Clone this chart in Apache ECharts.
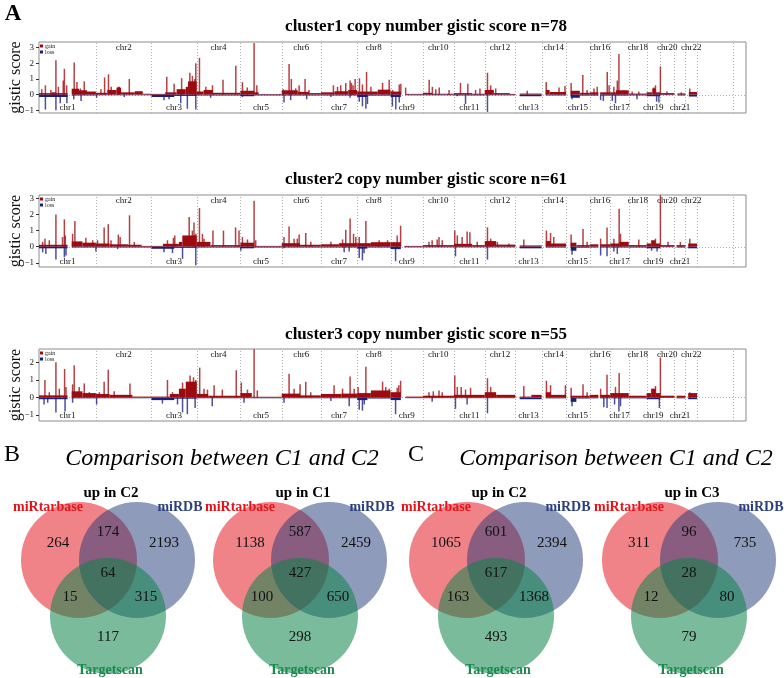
<!DOCTYPE html>
<html>
<head>
<meta charset="utf-8">
<script src="https://cdn.jsdelivr.net/npm/echarts@6/dist/echarts.min.js"></script>
<style>
html, body { margin: 0; background: #fff; }
#chart { width: 784px; height: 678px; }
</style>
</head>
<body>
<div id="chart"></div>
<script>
// chromosomes (Mb)
var chrNames = ['chr1','chr2','chr3','chr4','chr5','chr6','chr7','chr8','chr9','chr10','chr11','chr12',
    'chr13','chr14','chr15','chr16','chr17','chr18','chr19','chr20','chr21','chr22','chrX','chrY'];
var chrLen = [249,243,198,191,181,171,159,146,141,136,135,134,115,107,103,90,81,78,59,63,48,51,155,59];

var panelTitles = ['cluster1 copy number gistic score n=78',
    'cluster2 copy number gistic score n=61',
    'cluster3 copy number gistic score n=55'];
var yTicks1 = [-1, 0, 1, 2, 3];
var yTicks2 = [-1, 0, 1, 2, 3];
var yTicks3 = [-1, 0, 1, 2];

// gain / loss : segments [chr, start, end, score], peaks [chr, pos, score]
var gainSeg1 = [[1,0,125,0.1],[1,55,75,0.15],[1,143,175,0.38],[1,175,210,0.28],[1,210,249,0.2],
    [2,0,50,0.12],[2,50,90,0.3],[2,90,110,0.45],[2,110,170,0.15],[2,170,205,0.22],[2,205,243,0.06],
    [3,0,60,0.05],[3,60,110,0.15],[3,110,150,0.35],[3,150,160,0.5],[3,160,198,0.85],
    [4,0,30,0.2],[4,30,70,0.3],[4,70,191,0.12],[5,0,60,0.25],[5,60,80,0.15],[5,80,181,0.04],
    [6,0,70,0.28],[6,70,120,0.18],[6,120,171,0.1],[7,0,60,0.15],[7,60,120,0.22],[7,120,159,0.3],
    [8,0,90,0.2],[8,90,146,0.32],[9,0,45,0.2],[9,65,141,0.05],[10,0,40,0.12],[10,40,136,0.06],
    [11,0,80,0.1],[11,80,135,0.06],[12,0,40,0.3],[12,40,110,0.1],[12,110,134,0.05],[13,19,115,0.07],
    [14,18,35,0.3],[14,35,107,0.17],[15,20,60,0.25],[15,60,103,0.12],[16,0,38,0.15],[16,46,90,0.15],
    [17,0,25,0.15],[17,25,81,0.28],[18,0,78,0.07],[19,0,25,0.15],[19,25,40,0.4],[19,40,59,0.15],
    [20,0,63,0.1],[21,13,48,0.08],[22,15,51,0.17]];
var gainPk1 = [[1,12,0.35],[1,28,0.6],[1,52,0.3],[1,74,2.2],[1,85,0.5],[1,106,0.9],[1,111,1.65],[1,121,0.6],
    [1,154,2.05],[1,166,0.8],[1,181,0.4],[1,198,0.85],[2,22,0.35],[2,38,1.1],[2,55,1.3],[2,67,0.5],[2,98,0.5],
    [2,102,0.5],[2,146,1.0],[3,67,1.15],[3,99,0.7],[3,132,1.05],[3,168,1.4],[3,179,1.2],[3,190,1.0],[3,194,2.0],
    [4,12,2.35],[4,40,0.5],[4,69,0.6],[4,115,0.95],[4,171,1.85],[5,9,0.8],[5,30,0.45],[5,60,3.3],[5,72,0.6],
    [6,7,0.35],[6,32,1.95],[6,42,1.0],[6,61,0.4],[6,76,0.6],[6,102,1.0],[6,119,0.3],
    [7,55,0.6],[7,73,0.5],[7,87,0.6],[7,109,0.75],[7,128,0.9],[7,134,0.75],[7,141,0.6],[7,150,1.0],
    [8,10,1.05],[8,23,0.65],[8,41,1.45],[8,60,0.5],[8,111,0.75],[8,140,0.95],[9,9,0.3],[9,38,0.65],[9,45,0.7],
    [9,66,0.45],[10,28,0.95],[10,42,0.5],[10,57,0.35],[10,72,0.45],[10,115,0.3],[11,29,0.75],[11,61,0.7],
    [11,95,0.3],[11,114,0.4],[12,12,1.4],[12,26,0.6],[12,48,0.4],[13,52,0.25],[14,20,0.8],[14,76,0.45],
    [14,102,0.55],[15,22,0.75],[15,73,1.25],[15,92,0.3],[16,19,0.4],[16,33,0.5],[16,77,1.45],[16,85,0.6],
    [17,16,0.5],[17,31,0.9],[17,38,2.6],[17,60,0.3],[18,15,0.2],[18,44,0.2],[19,32,0.45],[19,39,0.6],
    [20,1.5,1.8],[20,30,0.2],[21,30,0.15],[22,19,0.4]];
var lossSeg1 = [[1,0,125,-0.15],[1,143,249,-0.05],[2,0,243,-0.04],[3,0,100,-0.15],[3,100,198,-0.08],
    [4,0,191,-0.06],[5,0,60,-0.1],[5,60,181,-0.05],[6,0,171,-0.05],[7,0,159,-0.05],[8,0,45,-0.15],
    [8,45,146,-0.06],[9,0,45,-0.15],[9,65,141,-0.04],[10,0,136,-0.04],[11,0,135,-0.05],[12,0,134,-0.04],
    [13,19,115,-0.1],[14,18,107,-0.05],[15,20,60,-0.2],[15,60,103,-0.06],[16,0,38,-0.06],[16,46,90,-0.06],
    [17,0,81,-0.06],[18,0,78,-0.05],[19,0,59,-0.1],[20,0,63,-0.03],[21,13,48,-0.05],[22,15,51,-0.12]];
var lossPk1 = [[1,28,-0.95],[1,74,-1.0],[1,93,-0.55],[1,122,-0.55],[1,152,-0.3],[1,184,-0.4],[2,3,-0.2],
    [2,124,-0.15],[3,55,-0.35],[3,77,-0.3],[3,128,-0.55],[3,157,-0.9],[3,194,-0.95],[4,61,-0.2],[5,9,-0.15],
    [6,10,-0.5],[6,39,-0.35],[6,109,-0.3],[7,44,-0.15],[7,128,-0.2],[8,9,-0.45],[8,23,-0.75],[8,38,-0.9],
    [8,45,-0.6],[9,8,-0.75],[9,23,-0.95],[9,38,-0.5],[11,15,-0.1],[11,51,-0.6],[12,12,-1.1],[15,26,-0.3],
    [16,48,-0.35],[16,60,-0.4],[17,9,-0.4],[17,23,-0.55],[18,36,-0.3],[19,44,-0.45],[19,54,-0.5]];

var gainSeg2 = [[1,0,125,0.12],[1,143,190,0.33],[1,190,249,0.25],[2,0,60,0.2],[2,60,140,0.15],[2,140,200,0.12],
    [2,200,243,0.05],[3,0,50,0.05],[3,50,120,0.18],[3,120,135,0.3],[3,135,198,0.7],[4,0,60,0.3],[4,60,191,0.1],
    [5,0,60,0.25],[5,60,181,0.05],[6,0,80,0.22],[6,80,171,0.12],[7,0,80,0.15],[7,80,159,0.22],[8,0,60,0.22],
    [8,60,146,0.28],[9,0,45,0.28],[9,60,141,0.05],[10,0,136,0.1],[11,0,80,0.18],[11,80,135,0.1],[12,0,50,0.35],
    [12,50,134,0.13],[13,19,115,0.08],[14,18,40,0.35],[14,40,107,0.2],[15,20,45,0.25],[15,45,103,0.1],
    [16,0,38,0.15],[16,46,90,0.15],[17,0,40,0.2],[17,40,81,0.3],[18,0,78,0.1],[19,0,20,0.2],[19,20,40,0.4],
    [19,40,59,0.2],[20,0,63,0.1],[21,9,48,0.1],[22,12,51,0.2]];
var gainPk2 = [[1,16,0.3],[1,26,0.5],[1,45,0.4],[1,74,2.0],[1,103,0.6],[1,111,1.7],[1,115,0.7],[1,147,0.8],
    [1,157,1.6],[1,205,0.55],[1,235,0.4],[2,7,0.4],[2,36,1.2],[2,54,1.4],[2,66,0.4],[2,98,0.75],[2,106,0.6],
    [2,147,1.95],[2,168,0.3],[3,70,0.4],[3,96,0.55],[3,102,0.7],[3,165,1.85],[3,179,1.0],[3,186,1.5],[3,194,0.8],
    [4,12,2.4],[4,25,0.8],[4,32,0.5],[4,71,1.0],[4,117,1.0],[4,170,1.2],[4,185,1.0],[5,9,0.6],[5,31,0.45],
    [5,60,2.85],[5,67,0.4],[6,10,0.6],[6,32,1.25],[6,54,0.5],[6,68,0.5],[6,76,0.75],[6,105,0.85],[6,127,0.3],
    [7,44,0.3],[7,95,0.45],[7,109,1.05],[7,128,1.75],[7,143,0.8],[7,153,0.6],[8,9,0.6],[8,38,1.6],[8,96,0.4],
    [8,133,0.4],[9,29,0.7],[9,44,1.3],[10,27,0.3],[10,41,0.4],[10,63,0.45],[10,71,0.6],[10,85,0.4],[11,4,1.0],
    [11,15,0.7],[11,36,0.6],[11,58,0.95],[11,70,0.9],[11,102,0.3],[12,12,1.2],[12,26,0.5],[12,55,0.3],
    [12,106,0.2],[13,37,0.45],[14,21,1.0],[14,39,0.85],[14,53,0.6],[15,22,0.75],[15,74,1.1],[15,92,0.3],
    [16,48,0.5],[16,76,1.2],[17,16,0.5],[17,39,2.35],[17,45,0.8],[18,44,0.45],[19,39,0.5],[20,1.5,3.2],
    [20,35,0.3],[21,26,0.3],[22,19,0.5]];
var lossSeg2 = [[1,0,125,-0.1],[1,143,249,-0.05],[2,0,243,-0.05],[3,0,100,-0.13],[3,100,198,-0.07],
    [4,0,191,-0.05],[5,0,60,-0.1],[5,60,181,-0.05],[6,0,171,-0.05],[7,0,159,-0.05],[8,0,45,-0.12],
    [8,45,146,-0.05],[9,0,45,-0.15],[9,60,141,-0.04],[10,0,136,-0.04],[11,0,135,-0.04],[12,0,134,-0.04],
    [13,19,115,-0.1],[14,18,107,-0.05],[15,20,45,-0.25],[15,45,103,-0.06],[16,0,38,-0.05],[16,46,90,-0.05],
    [17,0,81,-0.05],[18,0,78,-0.05],[19,0,59,-0.1],[20,0,63,-0.03],[21,9,48,-0.05],[22,12,51,-0.1]];
var lossPk2 = [[1,16,-0.35],[1,30,-0.45],[1,74,-0.8],[1,111,-0.65],[1,118,-0.55],[2,0,-0.3],[2,95,-0.15],
    [3,55,-0.35],[3,92,-0.4],[3,136,-0.75],[3,194,-1.15],[5,2,-0.25],[6,10,-0.1],[7,102,-0.35],[7,124,-0.3],
    [8,9,-0.7],[8,23,-0.85],[8,30,-0.4],[9,22,-0.9],[11,7,-0.6],[12,12,-0.8],[15,26,-0.5],[16,48,-0.55],
    [16,76,-0.6],[17,16,-0.3],[17,31,-0.45],[19,22,-0.25],[19,46,-0.3]];

var gainSeg3 = [[1,0,125,0.12],[1,143,190,0.35],[1,190,249,0.25],[2,0,60,0.2],[2,60,160,0.15],[2,160,243,0.05],
    [3,0,80,0.05],[3,80,120,0.2],[3,120,150,0.5],[3,150,198,0.9],[4,0,50,0.2],[4,50,191,0.1],[5,0,50,0.25],
    [5,50,181,0.04],[6,0,80,0.22],[6,80,171,0.12],[7,0,90,0.2],[7,90,159,0.22],[8,0,60,0.25],[8,60,146,0.4],
    [9,0,45,0.3],[9,65,141,0.05],[10,0,136,0.1],[11,0,135,0.15],[12,0,50,0.3],[12,50,134,0.15],[13,19,70,0.05],
    [13,70,115,0.15],[14,18,40,0.3],[14,40,107,0.15],[15,20,103,0.1],[16,0,38,0.15],[16,46,90,0.15],
    [17,0,81,0.25],[18,0,78,0.1],[19,0,20,0.25],[19,20,40,0.5],[19,40,59,0.25],[20,0,63,0.1],[21,9,48,0.1],
    [22,12,51,0.25]];
var gainPk3 = [[1,26,1.0],[1,45,0.3],[1,74,2.0],[1,89,0.5],[1,112,1.62],[1,118,0.6],[1,147,0.75],[1,154,1.83],
    [1,176,0.6],[1,198,0.8],[1,220,0.3],[2,15,0.3],[2,36,0.9],[2,54,1.58],[2,80,0.35],[2,149,0.8],[3,70,1.0],
    [3,92,0.3],[3,136,0.85],[3,169,1.25],[3,184,1.15],[3,194,1.0],[4,13,1.7],[4,32,0.5],[4,47,0.45],[4,76,0.7],
    [4,112,0.45],[4,173,1.55],[5,4,0.85],[5,31,0.45],[5,60,2.75],[5,74,0.4],[6,32,1.35],[6,54,0.5],[6,80,0.75],
    [6,105,0.9],[6,127,0.3],[7,58,0.7],[7,95,0.5],[7,128,1.2],[7,146,0.5],[8,4,0.6],[8,38,1.75],[8,111,0.9],
    [8,125,0.6],[8,140,0.5],[9,29,0.55],[9,36,0.7],[9,44,0.95],[10,27,0.3],[10,46,0.35],[10,71,0.4],[10,85,0.3],
    [11,4,1.25],[11,15,0.6],[11,32,0.6],[11,51,0.45],[11,73,0.55],[12,12,1.1],[12,26,0.6],[13,37,0.65],
    [14,21,0.95],[14,39,0.7],[14,104,0.7],[15,22,0.55],[15,74,0.75],[15,92,0.3],[16,48,0.5],[16,76,1.3],
    [17,23,0.6],[17,39,1.4],[19,39,0.65],[20,1.5,2.25],[22,19,0.3]];
var lossSeg3 = [[1,0,125,-0.1],[1,143,249,-0.05],[2,0,243,-0.05],[3,0,100,-0.15],[3,100,198,-0.07],
    [4,0,191,-0.05],[5,0,181,-0.05],[6,0,171,-0.05],[7,0,159,-0.05],[8,0,45,-0.15],[8,45,146,-0.06],
    [9,0,45,-0.15],[9,65,141,-0.04],[10,0,136,-0.04],[11,0,135,-0.04],[12,0,134,-0.04],[13,19,115,-0.1],
    [14,18,107,-0.05],[15,20,45,-0.25],[15,45,103,-0.06],[16,0,38,-0.05],[16,46,90,-0.05],[17,0,81,-0.05],
    [18,0,78,-0.05],[19,0,59,-0.1],[20,0,63,-0.03],[21,9,48,-0.05],[22,12,51,-0.1]];
var lossPk3 = [[1,22,-0.4],[1,38,-0.3],[1,74,-0.85],[1,114,-0.8],[1,147,-0.3],[2,3,-0.4],[3,48,-0.35],
    [3,114,-0.4],[3,136,-0.85],[3,157,-0.95],[3,191,-0.6],[4,68,-0.5],[5,16,-0.3],[6,10,-0.3],[7,44,-0.2],
    [7,124,-0.5],[8,9,-0.7],[8,23,-0.75],[8,31,-0.4],[9,22,-0.95],[10,41,-0.25],[11,7,-0.65],[11,58,-0.4],
    [12,12,-0.9],[15,26,-0.5],[16,62,-0.55],[16,76,-0.6],[17,19,-0.4],[17,38,-0.8],[17,45,-0.5],[19,56,-0.6]];

// venn counts: up in C2 / up in C1 / up in C2 / up in C3
var vennTitles = ['up in C2', 'up in C1', 'up in C2', 'up in C3'];
var onlyMiRtarbase = [264, 1138, 1065, 311];
var miRtarbaseMiRDB = [174, 587, 601, 96];
var onlyMiRDB = [2193, 2459, 2394, 735];
var miRtarbaseTargetscan = [15, 100, 163, 12];
var allThree = [64, 427, 617, 28];
var miRDBTargetscan = [315, 650, 1368, 80];
var onlyTargetscan = [117, 298, 493, 79];

var SERIF = '"Liberation Serif", "DejaVu Serif", serif';
var GAIN = '#9e0b0f', LOSS = '#1c1f7a';

var chrStart = [], acc = 0;
for (var i = 0; i < chrLen.length; i++) { chrStart.push(acc); acc += chrLen[i]; }
var genome = acc;

function toItems(seg, pk) {
    var out = [];
    seg.forEach(function (d) { var o = chrStart[d[0] - 1]; out.push([o + d[1], o + d[2], d[3], 0]); });
    pk.forEach(function (d) { var o = chrStart[d[0] - 1]; out.push([o + d[1], o + d[1], d[2], 1]); });
    return out;
}

function renderBar(params, api) {
    var spike = api.value(3);
    var p0 = api.coord([api.value(0), 0]);
    var p1 = api.coord([api.value(1), api.value(2)]);
    var w = spike ? 1.5 : Math.max(p1[0] - p0[0], 1);
    var x = spike ? p0[0] - w / 2 : p0[0];
    return {
        type: 'rect',
        shape: { x: x, y: Math.min(p0[1], p1[1]), width: w, height: Math.abs(p1[1] - p0[1]) },
        style: { fill: api.visual('color'), opacity: spike ? 0.78 : 1 }
    };
}

var panels = [
    { top: 42, height: 71, min: -1.17, max: 3.36, ticks: yTicks1, gain: toItems(gainSeg1, gainPk1), loss: toItems(lossSeg1, lossPk1), titleTop: 18 },
    { top: 195, height: 72, min: -1.26, max: 3.21, ticks: yTicks2, gain: toItems(gainSeg2, gainPk2), loss: toItems(lossSeg2, lossPk2), titleTop: 171 },
    { top: 349, height: 72, min: -1.34, max: 2.76, ticks: yTicks3, gain: toItems(gainSeg3, gainPk3), loss: toItems(lossSeg3, lossPk3), titleTop: 326 }
];

var grids = [], xAxes = [], yAxes = [], series = [], titles = [], legends = [];

// chromosome boundaries and label centres
var bounds = [], centres = [];
for (var c = 0; c < 23; c++) bounds.push([chrStart[c] + chrLen[c]]);
for (var c = 0; c < 22; c++) centres.push([chrStart[c] + chrLen[c] / 2, c]);

function tickText(v) { return v < 0 ? '\u2212' + Math.abs(v) : String(v); }

panels.forEach(function (p, k) {
    grids.push({ left: 38, width: 708, top: p.top, height: p.height, show: true, borderColor: '#8c8c8c', borderWidth: 1, backgroundColor: 'transparent' });
    xAxes.push({ gridIndex: k, type: 'value', min: 0, max: genome, show: false });
    yAxes.push({
        gridIndex: k, type: 'value', min: p.min, max: p.max,
        name: 'gistic score', nameLocation: 'middle', nameGap: 15, nameRotate: 90,
        nameTextStyle: { fontFamily: SERIF, fontSize: 16, color: '#111' },
        axisLine: { show: false }, splitLine: { show: false },
        axisTick: { show: true, length: 3, customValues: p.ticks, lineStyle: { color: '#333' } },
        axisLabel: { show: false }
    });
    titles.push({ text: panelTitles[k], left: 426, top: p.titleTop, textAlign: 'center', padding: 0,
        textStyle: { fontFamily: SERIF, fontSize: 17, fontWeight: 'bold', color: '#000' } });
    legends.push({ data: ['gain', 'loss'], left: 40, top: p.top + 1, orient: 'vertical', icon: 'rect',
        itemWidth: 3, itemHeight: 3, itemGap: 0, padding: 0, selectedMode: false,
        textStyle: { fontFamily: SERIF, fontSize: 6, color: '#222', padding: [0, 0, 0, -3] } });

    series.push({
        type: 'custom', xAxisIndex: k, yAxisIndex: k, silent: true, z: 1,
        data: bounds,
        renderItem: function (params, api) {
            var a = api.coord([api.value(0), p.min]), b = api.coord([api.value(0), p.max]);
            return { type: 'line', shape: { x1: Math.round(a[0]) + 0.5, y1: a[1], x2: Math.round(a[0]) + 0.5, y2: b[1] },
                style: { stroke: '#b0b0b0', lineWidth: 1, lineDash: [1, 2] } };
        }
    });
    series.push({
        type: 'custom', xAxisIndex: k, yAxisIndex: k, silent: true, z: 1,
        data: [[0]],
        renderItem: function (params, api) {
            var a = api.coord([0, 0]), b = api.coord([genome, 0]);
            return { type: 'line', shape: { x1: a[0], y1: Math.round(a[1]) + 0.5, x2: b[0], y2: Math.round(a[1]) + 0.5 },
                style: { stroke: '#b0b0b0', lineWidth: 1, lineDash: [1, 2] } };
        }
    });
    // y tick labels, placed at the tick values
    series.push({
        type: 'custom', xAxisIndex: k, yAxisIndex: k, silent: true, clip: false, z: 3,
        data: p.ticks.map(function (t) { return [0, t]; }),
        renderItem: function (params, api) {
            var pt = api.coord([0, api.value(1)]);
            return { type: 'text', style: { text: tickText(api.value(1)), x: pt[0] - 5, y: pt[1],
                align: 'right', verticalAlign: 'middle', fontFamily: SERIF, fontSize: 9, fill: '#222' } };
        }
    });
    series.push({ name: 'gain', type: 'custom', xAxisIndex: k, yAxisIndex: k, silent: true, z: 2,
        itemStyle: { color: GAIN }, data: p.gain, renderItem: renderBar });
    series.push({ name: 'loss', type: 'custom', xAxisIndex: k, yAxisIndex: k, silent: true, z: 2,
        itemStyle: { color: LOSS }, data: p.loss, renderItem: renderBar });
    series.push({
        type: 'custom', xAxisIndex: k, yAxisIndex: k, silent: true, z: 3,
        data: centres,
        renderItem: function (params, api) {
            var idx = api.value(1), even = (idx % 2 === 1);
            var pt = api.coord([api.value(0), even ? p.max : p.min]);
            return { type: 'text', style: { text: chrNames[idx], x: pt[0], y: even ? pt[1] + 1 : pt[1] - 1,
                align: 'center', verticalAlign: even ? 'top' : 'bottom', fontFamily: SERIF, fontSize: 9, fill: '#111' } };
        }
    });
});

// venn diagrams
var vennMidX = [108, 300, 496, 689];
function vText(t, x, y, size, weight, color) {
    return { type: 'text', style: { text: t, x: x, y: y, align: 'center', verticalAlign: 'middle',
        fontFamily: SERIF, fontSize: size, fontWeight: weight, fill: color } };
}
series.push({
    type: 'custom', coordinateSystem: 'none', silent: true,
    data: [0, 1, 2, 3],
    renderItem: function (params, api) {
        var i = params.dataIndex, mx = vennMidX[i], cy = 560, r = 58, dx = 29;
        var ch = [
            { type: 'circle', shape: { cx: mx - dx, cy: cy, r: r }, style: { fill: 'rgba(228,30,38,0.55)' } },
            { type: 'circle', shape: { cx: mx + dx, cy: cy, r: r }, style: { fill: 'rgba(32,56,118,0.5)' } },
            { type: 'circle', shape: { cx: mx, cy: cy + 56, r: r }, style: { fill: 'rgba(12,132,72,0.55)' } }
        ];
        var nums = [[onlyMiRtarbase[i], -50, -17], [miRtarbaseMiRDB[i], 0, -28], [onlyMiRDB[i], 56, -17],
            [miRtarbaseTargetscan[i], -38, 37], [allThree[i], 0, 13], [miRDBTargetscan[i], 38, 37],
            [onlyTargetscan[i], 0, 77]];
        nums.forEach(function (n) { ch.push(vText(String(n[0]), mx + n[1], cy + n[2], 15, 'normal', '#111')); });
        ch.push(vText(vennTitles[i], mx + 3, cy - 67, 15, 'bold', '#000'));
        ch.push(vText('miRtarbase', mx - 60, cy - 53, 14, 'bold', '#e3141c'));
        ch.push(vText('miRDB', mx + 72, cy - 53, 14, 'bold', '#2b3f7e'));
        ch.push(vText('Targetscan', mx + 2, cy + 110, 14, 'bold', '#1a8a4c'));
        return { type: 'group', children: ch };
    }
});

titles.push({ text: 'A', left: 13, top: 3, textAlign: 'center', padding: 0,
    textStyle: { fontFamily: SERIF, fontSize: 23, fontWeight: 'bold', color: '#000' } });
titles.push({ text: 'B', left: 12, top: 443, textAlign: 'center', padding: 0,
    textStyle: { fontFamily: SERIF, fontSize: 24, fontWeight: 'normal', color: '#000' } });
titles.push({ text: 'C', left: 416, top: 443, textAlign: 'center', padding: 0,
    textStyle: { fontFamily: SERIF, fontSize: 24, fontWeight: 'normal', color: '#000' } });
titles.push({ text: 'Comparison between C1 and C2', left: 222, top: 447, textAlign: 'center', padding: 0,
    textStyle: { fontFamily: SERIF, fontSize: 24, fontStyle: 'italic', fontWeight: 'normal', color: '#000' } });
titles.push({ text: 'Comparison between C1 and C2', left: 616, top: 447, textAlign: 'center', padding: 0,
    textStyle: { fontFamily: SERIF, fontSize: 24, fontStyle: 'italic', fontWeight: 'normal', color: '#000' } });

var myChart = echarts.init(document.getElementById('chart'));
myChart.setOption({
    animation: false,
    backgroundColor: '#fff',
    title: titles,
    legend: legends,
    grid: grids,
    xAxis: xAxes,
    yAxis: yAxes,
    series: series
});
</script>
</body>
</html>
